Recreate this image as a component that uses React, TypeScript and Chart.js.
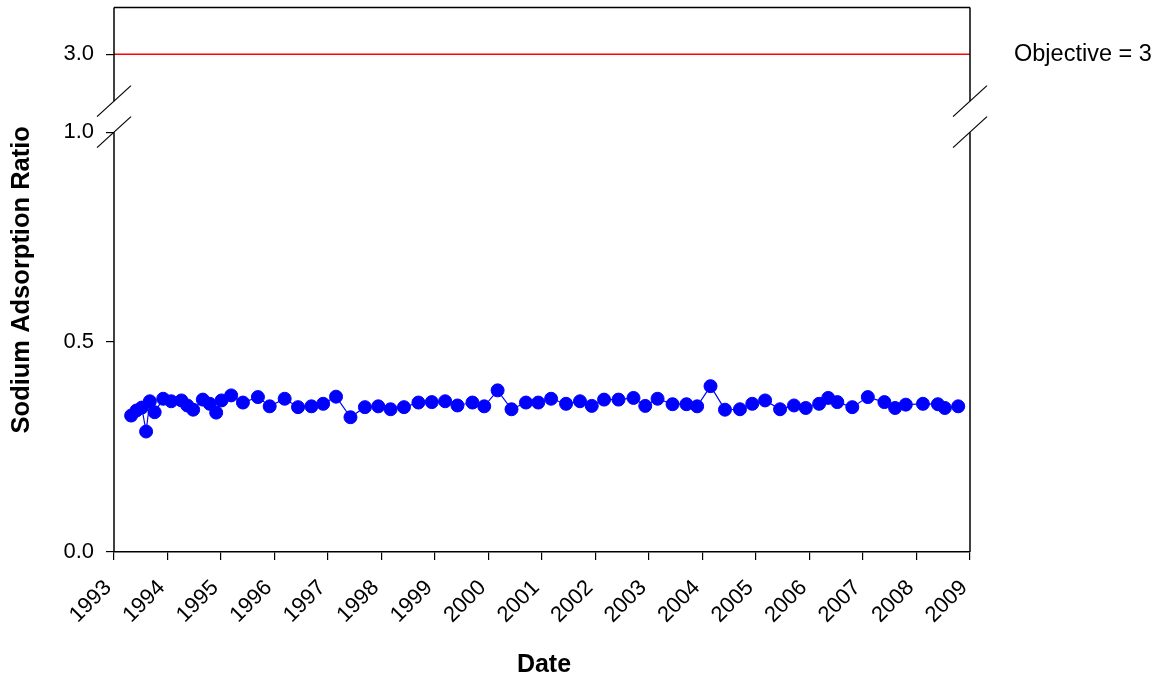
import React, { useEffect, useRef } from "react";
import { Chart, registerables } from "chart.js";

Chart.register(...registerables);

// ---- data ----
const sampleYears: number[] = [
  1993.32, 1993.42, 1993.52, 1993.60, 1993.67, 1993.76, 1993.92, 1994.07, 1994.26, 1994.37,
  1994.48, 1994.66, 1994.79, 1994.91, 1995.01, 1995.19, 1995.41, 1995.69, 1995.91, 1996.19,
  1996.44, 1996.69, 1996.91, 1997.15, 1997.42, 1997.69, 1997.94, 1998.17, 1998.42, 1998.69,
  1998.94, 1999.19, 1999.42, 1999.70, 1999.92, 2000.17, 2000.43, 2000.70, 2000.93, 2001.17,
  2001.45, 2001.71, 2001.93, 2002.16, 2002.43, 2002.71, 2002.93, 2003.16, 2003.44, 2003.70,
  2003.90, 2004.15, 2004.42, 2004.70, 2004.93, 2005.17, 2005.45, 2005.71, 2005.93, 2006.18,
  2006.35, 2006.52, 2006.80, 2007.09, 2007.40, 2007.60, 2007.80, 2008.12, 2008.40, 2008.53,
  2008.78,
];

const sarValues: number[] = [
  0.325, 0.337, 0.344, 0.287, 0.359, 0.333, 0.365, 0.359, 0.361, 0.349,
  0.339, 0.363, 0.353, 0.332, 0.361, 0.373, 0.356, 0.369, 0.347, 0.365,
  0.345, 0.347, 0.353, 0.370, 0.321, 0.345, 0.347, 0.340, 0.345, 0.356,
  0.357, 0.359, 0.349, 0.356, 0.347, 0.385, 0.340, 0.356, 0.356, 0.365,
  0.353, 0.359, 0.348, 0.363, 0.363, 0.367, 0.348, 0.365, 0.352, 0.352,
  0.347, 0.395, 0.339, 0.340, 0.353, 0.361, 0.340, 0.349, 0.343, 0.353,
  0.367, 0.357, 0.345, 0.369, 0.357, 0.343, 0.351, 0.353, 0.352, 0.343,
  0.347,
];

const objectiveValue = 3;
const objectiveLabel = "Objective = 3";

const xTickYears: number[] = [
  1993, 1994, 1995, 1996, 1997, 1998, 1999, 2000, 2001, 2002, 2003, 2004, 2005, 2006, 2007, 2008, 2009,
];
const xTickLabels: string[] = [
  "1993", "1994", "1995", "1996", "1997", "1998", "1999", "2000", "2001",
  "2002", "2003", "2004", "2005", "2006", "2007", "2008", "2009",
];
const lowerYTicks: number[] = [0.0, 0.5, 1.0];
const lowerYTickLabels: string[] = ["0.0", "0.5", "1.0"];
const upperYTicks: number[] = [3.0];
const upperYTickLabels: string[] = ["3.0"];

const xTitle = "Date";
const yTitle = "Sodium Adsorption Ratio";

const FONT = "'Liberation Sans', Arial, Helvetica, sans-serif";

const decorPlugin = {
  id: "decor",
  afterDraw(chart: any) {
    const ctx = chart.ctx as CanvasRenderingContext2D;
    const { left, right, top, bottom } = chart.chartArea;
    const yLow = chart.scales.y;
    const yUp = chart.scales.y2;
    const breakY = yLow.top;
    const gapTop = breakY - 31;
    ctx.save();
    ctx.strokeStyle = "#000";
    ctx.lineWidth = 1.5;
    const line = (x1: number, y1: number, x2: number, y2: number) => {
      ctx.beginPath();
      ctx.moveTo(x1, y1);
      ctx.lineTo(x2, y2);
      ctx.stroke();
    };
    line(left, top, right, top);
    for (const x of [left, right]) {
      line(x, top, x, gapTop);
      line(x, breakY, x, bottom);
      ctx.lineWidth = 1.2;
      for (const cy of [gapTop, breakY]) {
        line(x - 17, cy + 15.5, x + 17, cy - 15.5);
      }
      ctx.lineWidth = 1.5;
    }
    ctx.fillStyle = "#000";
    ctx.font = `23.5px ${FONT}`;
    ctx.textAlign = "left";
    ctx.textBaseline = "middle";
    ctx.fillText(objectiveLabel, 1014, yUp.getPixelForValue(objectiveValue));

    ctx.font = `bold 25px ${FONT}`;
    ctx.textAlign = "center";
    ctx.textBaseline = "middle";
    ctx.fillText(xTitle, (left + right) / 2 + 2, 665);

    ctx.font = `bold 25.5px ${FONT}`;
    ctx.translate(22, (top + bottom) / 2);
    ctx.rotate(-Math.PI / 2);
    ctx.fillText(yTitle, 0, 0);
    ctx.restore();
  },
};

export default function App() {
  const ref = useRef<HTMLCanvasElement | null>(null);

  useEffect(() => {
    if (!ref.current) return;
    const points = sampleYears.map((x, i) => ({ x, y: sarValues[i] }));
    const objective = [
      { x: xTickYears[0], y: objectiveValue },
      { x: xTickYears[xTickYears.length - 1], y: objectiveValue },
    ];
    const tickFont = { family: FONT, size: 22 };
    const yFit = (s: any) => {
      s.width = 114;
      s.paddingTop = 0;
      s.paddingBottom = 0;
    };
    const chart = new Chart(ref.current, {
      type: "line",
      data: {
        datasets: [
          {
            label: "SAR",
            data: points,
            xAxisID: "x",
            yAxisID: "y",
            borderColor: "#0000ff",
            borderWidth: 1.2,
            backgroundColor: "#0000ff",
            pointBackgroundColor: "#0000ff",
            pointBorderColor: "#0000ff",
            pointBorderWidth: 1,
            pointRadius: 6.5,
            tension: 0,
          },
          {
            label: "Objective",
            data: objective,
            xAxisID: "x",
            yAxisID: "y2",
            borderColor: "#ff0000",
            borderWidth: 1.5,
            pointRadius: 0,
            tension: 0,
          },
        ],
      },
      options: {
        animation: false,
        responsive: false,
        devicePixelRatio: 1,
        layout: { padding: { top: 6, right: 192, left: 0, bottom: 0 } },
        plugins: { legend: { display: false }, tooltip: { enabled: false } },
        scales: {
          x: {
            type: "linear",
            position: "bottom",
            min: xTickYears[0],
            max: xTickYears[xTickYears.length - 1],
            afterBuildTicks: (s: any) => {
              s.ticks = xTickYears.map((v) => ({ value: v }));
            },
            afterFit: (s: any) => {
              s.height = 129;
              s.paddingLeft = 0;
              s.paddingRight = 0;
            },
            ticks: {
              color: "#000",
              font: tickFont,
              minRotation: 45,
              maxRotation: 45,
              autoSkip: false,
              padding: 15,
              labelOffset: -6,
              callback: (v: any) => xTickLabels[xTickYears.indexOf(Number(v))] ?? "",
            },
            grid: { drawOnChartArea: false, drawTicks: true, tickLength: 8, color: "#000", lineWidth: 1.2 },
            border: { display: true, color: "#000", width: 1.5 },
          },
          y: {
            type: "linear",
            position: "left",
            stack: "sar",
            stackWeight: 421,
            weight: 0,
            min: 0,
            max: 1,
            afterBuildTicks: (s: any) => {
              s.ticks = lowerYTicks.map((v) => ({ value: v }));
            },
            afterFit: yFit,
            ticks: {
              color: "#000",
              font: tickFont,
              padding: 12,
              callback: (v: any) => lowerYTickLabels[lowerYTicks.indexOf(Number(v))] ?? "",
            },
            grid: { drawOnChartArea: false, drawTicks: true, tickLength: 8, color: "#000", lineWidth: 1.2 },
            border: { display: false },
          },
          y2: {
            type: "linear",
            position: "left",
            stack: "sar",
            stackWeight: 125,
            weight: 1,
            min: 2.0,
            max: 3.6,
            afterBuildTicks: (s: any) => {
              s.ticks = upperYTicks.map((v) => ({ value: v }));
            },
            afterFit: yFit,
            ticks: {
              color: "#000",
              font: tickFont,
              padding: 12,
              callback: (v: any) => upperYTickLabels[upperYTicks.indexOf(Number(v))] ?? "",
            },
            grid: { drawOnChartArea: false, drawTicks: true, tickLength: 8, color: "#000", lineWidth: 1.2 },
            border: { display: false },
          },
        },
      } as any,
      plugins: [decorPlugin],
    });
    return () => chart.destroy();
  }, []);

  return (
    <div style={{ position: "fixed", left: 0, top: 0, width: 1162, height: 681, background: "#fff" }}>
      <canvas ref={ref} width={1162} height={681} style={{ display: "block", width: 1162, height: 681 }} />
    </div>
  );
}
